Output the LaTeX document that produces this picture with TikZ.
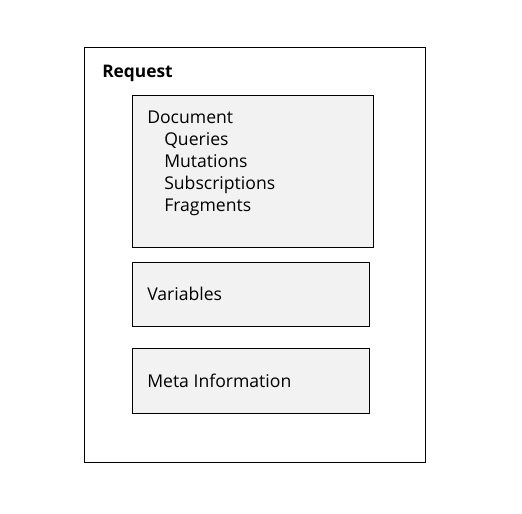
\documentclass[tikz,border=0pt]{standalone}
\usepackage{fontspec}
\setmainfont{Open Sans}
\definecolor{boxfill}{HTML}{F2F2F2}
\begin{document}
\begin{tikzpicture}[x=0.75pt,y=-0.75pt,
  frame/.style={draw=black,line width=0.75pt},
  inner/.style={draw=black,fill=boxfill,line width=0.75pt},
  lbl/.style={anchor=base west,inner sep=0pt,font=\fontsize{13.2pt}{15pt}\selectfont}]
\useasboundingbox (0,0) rectangle (522,514);
\draw[frame] (84,47) rectangle (425,462);
\draw[inner] (132,95) rectangle (373,247);
\draw[inner] (132,262) rectangle (369,326);
\draw[inner] (132,348) rectangle (369,413);
\node[lbl,font=\fontsize{13pt}{15pt}\selectfont\bfseries] (req) at (102,77) {Request};
\node[lbl] (doc) at (147,123) {Document};
\node[lbl] (q) at (164,145) {Queries};
\node[lbl] (m) at (164,167) {Mutations};
\node[lbl] (s) at (164,189) {Subscriptions};
\node[lbl] (f) at (164,211) {Fragments};
\node[lbl] (v) at (147,300) {Variables};
\node[lbl] (mi) at (147,387) {Meta Information};
\end{tikzpicture}
\end{document}
